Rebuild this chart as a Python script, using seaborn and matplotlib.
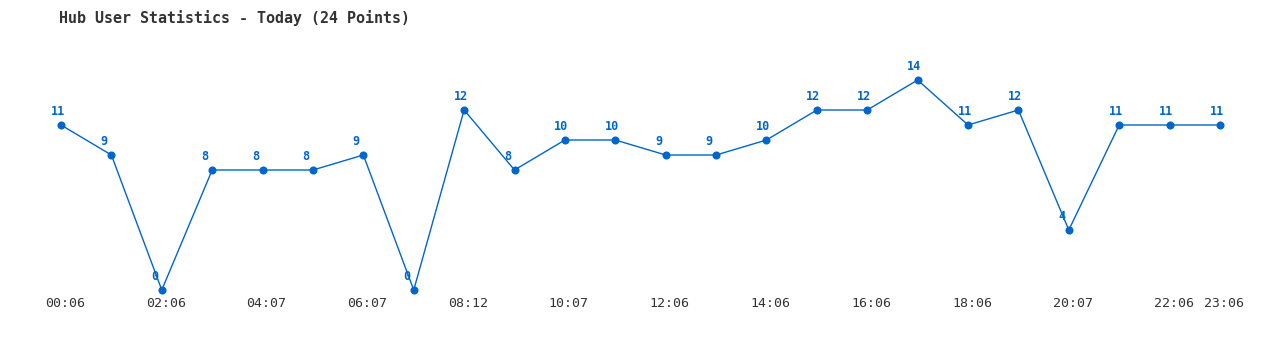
import matplotlib
matplotlib.use("Agg")
import matplotlib.pyplot as plt
import seaborn as sns
import pandas as pd
from matplotlib.transforms import ScaledTranslation

title = "Hub User Statistics - Today (24 Points)"
values = [11, 9, 0, 8, 8, 8, 9, 0, 12, 8, 10, 10, 9, 9, 10, 12, 12, 14, 11, 12, 4, 11, 11, 11]
tick_positions = [0, 2, 4, 6, 8, 10, 12, 14, 16, 18, 20, 22, 23]
tick_labels = ["00:06", "02:06", "04:07", "06:07", "08:12", "10:07", "12:06",
               "14:06", "16:06", "18:06", "20:07", "22:06", "23:06"]

color = "#0066cc"
mono = ["DejaVu Sans Mono"]

sns.set_theme(style="white")
plt.rcParams["font.family"] = mono

df = pd.DataFrame({"idx": list(range(len(values))), "users": values})

fig = plt.figure(figsize=(12.8, 3.5), dpi=100)
ax = fig.add_axes([0, (350 - 292) / 350, 1, (292 - 40) / 350])

sns.lineplot(data=df, x="idx", y="users", ax=ax, color=color, linewidth=1.0,
             marker="o", markersize=5.8, markeredgewidth=0, markerfacecolor=color)
for ln in ax.lines:
    ln.set_clip_on(False)

for i, v in enumerate(values):
    ax.annotate(str(v), (i, v), xytext=(-7.6, 9.7), textcoords="offset points",
                ha="left", va="center", fontsize=8.5, fontweight="bold",
                color=color, family=mono)

ax.set_xlim(-61 / 50.39, (1280 - 61) / 50.39)
ax.set_ylim((290 - 292) / 15, (290 - 40) / 15)
ax.set_xticks(tick_positions)
ax.set_xticklabels(tick_labels, fontsize=9.5, color="#333333", family=mono)
ax.tick_params(axis="x", length=0, pad=3.5)
ax.set_yticks([])
ax.set_xlabel("")
ax.set_ylabel("")
for s in ax.spines.values():
    s.set_visible(False)
for lbl in ax.get_xticklabels():
    lbl.set_transform(lbl.get_transform() + ScaledTranslation(4 / 100, 0, fig.dpi_scale_trans))

fig.text(59 / 1280, 1 - 18 / 350, title, ha="left", va="center",
         fontsize=10.8, fontweight="bold", color="#333333", family=mono)

fig.savefig("out.png", dpi=100, facecolor="white")
